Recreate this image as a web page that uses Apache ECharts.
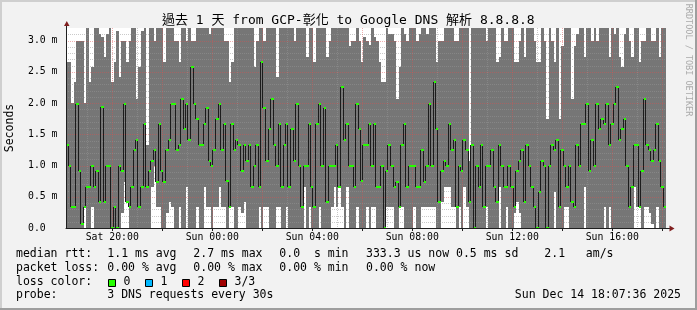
<!DOCTYPE html>
<html><head><meta charset="utf-8">
<script src="https://cdn.jsdelivr.net/npm/echarts@6/dist/echarts.min.js"></script>
<style>html,body{margin:0;padding:0;background:#f2f2f2}#c{width:697px;height:310px}</style>
</head><body><div id="c"></div>
<script>
// ---- time base: hours since Sat 00:00, 6-minute consolidated steps ----
const START_HOUR = 18.15;
const STEP_HOURS = 0.1;
const Y_MAX = 3.2;

// median rtt per step (ms)
const medianMs = [
1.33,1.0,0.33,0.33,1.98,0.92,0.06,0.33,0.66,0.66, 1.0,0.66,0.92,0.41,1.93,0.41,1.0,1.0,0.0,0.33,
0.0,1.0,0.92,1.98,0.41,0.33,0.66,1.25,1.41,0.33, 0.66,1.66,0.66,0.92,1.08,1.25,0.73,1.66,0.92,0.73,
1.25,1.41,1.98,1.98,1.25,1.33,2.06,1.58,1.98,1.41, 2.58,1.98,1.74,1.33,1.33,1.66,1.92,1.08,1.0,1.25,
1.74,1.98,1.25,1.66,0.75,0.33,1.66,1.25,1.41,1.33, 0.92,1.33,1.08,1.33,0.66,1.0,1.33,0.66,2.66,1.92,
1.08,1.58,2.06,1.33,1.0,1.66,0.66,1.33,1.66,0.66, 1.58,1.08,1.98,1.0,0.33,1.0,1.0,1.66,0.66,0.33,
1.66,1.98,1.0,1.92,0.41,1.0,1.0,1.0,1.33,0.66, 2.25,1.41,1.66,1.0,1.0,0.66,1.98,1.58,0.75,1.33,
1.33,1.66,1.0,1.66,0.66,0.66,1.0,0.0,0.92,1.33, 1.0,0.66,0.73,0.33,1.33,1.66,0.66,1.0,1.0,1.0,
0.66,0.66,1.25,0.73,1.0,1.98,1.0,2.33,1.58,0.41, 0.92,1.08,1.0,1.66,1.25,1.41,0.33,1.0,0.92,1.41,
1.25,0.41,1.33,0.0,1.0,0.66,1.33,0.33,1.0,1.0, 1.25,0.66,0.41,1.33,1.0,0.66,0.66,1.0,0.66,0.33,
0.92,1.08,1.25,0.41,1.33,1.0,0.66,0.33,0.0,0.58, 1.08,1.0,0.0,1.0,1.33,1.25,1.41,0.33,1.25,1.0,
0.66,1.0,0.41,0.33,1.33,1.0,1.66,1.66,1.98,0.92, 1.41,1.0,1.98,1.58,1.74,1.66,1.98,1.33,1.66,1.98,
2.25,1.41,1.58,1.74,1.0,0.33,0.66,1.33,1.33,0.33, 0.92,2.06,1.33,1.25,1.08,1.25,1.66,1.08,0.66,0.33
];
// lowest ping per step (ms)
const minMs = [
0,0,0,0,0,0,0,0.33,0,0, 0.33,0,0,0,0,0,0,0,0,0,
0,0,0.24,0.73,0.41,0,0,0,0,0, 0,0,0,0,0.66,1.0,0.33,0.33,0,0,
0.24,0.41,0.33,0,0,0.33,0,0,0.66,0, 0,0,0.33,0,0,0.66,0.33,0.33,0,0.33,
0.33,0.66,0.33,0.33,0,0.33,0.33,0,0,0.33, 0.24,0.41,0,0,0,0,0,0.33,0,0.33,
0.33,0,0,0,0.33,0.33,0,0,0.33,0, 0,0,0,0,0,0.66,0,0.33,0,0,
0,0.33,0,0,0,0,0.33,0.66,0.33,0.66, 0.33,0,0.66,0,0,0,0.33,0,0,0,
0.33,0,0.33,0.33,0,0,0,0,0.33,0.33, 0.33,0,0,0.33,0.33,0,0,0,0,0.33,
0,0,0.33,0.33,0.33,0.33,0.33,0.33,0,0, 0.41,0.66,0.66,0.66,0.33,0.33,0,0.33,0,0.66,
0.33,0,0,0,0,0,0,0,0.33,0, 0,0,0,0.66,0,0,0.33,0,0,0.24,
0.41,0.24,0,0,0,0,0,0,0,0, 0,0,0,0,0,0.58,0,0,0,0.33,
0.33,0,0,0,0,0,0,0.66,0,0, 0,0,0,0,0,0.33,0,0.33,0,0,
0,0,0,0,0,0,0,0.66,0.33,0.33, 0,0.33,0.33,0.24,0.06,0,0.33,0,0,0
];
// highest ping per step (ms); 3.3 = above the top of the graph
const maxMs = [
2.66,2.66,2.0,2.33,3.0,3.0,3.0,2.0,3.3,2.33, 2.58,3.3,3.3,3.1,3.05,2.74,3.1,3.3,2.33,2.66,
3.15,2.41,3.0,3.0,2.66,3.0,3.3,3.3,2.07,2.58, 3.15,3.3,1.33,3.3,3.3,3.0,3.3,3.3,3.3,2.66,
3.3,3.3,3.3,3.0,3.0,2.66,3.3,3.3,3.0,3.3, 3.0,3.0,3.3,3.3,3.3,3.3,3.3,3.1,3.3,3.3,
3.3,3.3,3.3,3.0,3.0,2.33,2.66,3.3,3.3,3.3, 3.3,3.3,3.3,3.3,3.3,2.58,3.0,3.3,3.3,3.0,
3.3,3.3,3.3,3.3,2.41,3.3,3.3,3.3,3.3,3.3, 3.3,3.0,3.3,3.3,3.3,3.3,2.74,3.3,3.3,2.66,
3.3,3.3,3.3,3.3,2.74,3.0,3.3,3.3,3.3,3.3, 3.3,3.3,3.3,2.92,3.0,3.0,3.3,3.0,2.66,3.05,
3.0,2.93,3.3,3.05,3.0,2.66,2.33,2.33,3.3,3.1, 3.1,3.0,2.07,2.58,3.3,3.1,3.0,3.3,3.3,3.3,
3.0,3.1,3.3,3.3,3.1,3.3,3.3,3.3,2.66,3.0, 3.0,3.3,3.3,3.3,3.3,3.0,3.0,3.3,3.3,3.3,
3.3,1.08,3.3,3.3,3.3,3.3,3.3,3.3,3.0,3.3, 3.3,3.3,2.66,2.74,3.3,3.0,3.0,3.3,3.3,2.66,
2.66,3.0,3.3,2.74,3.3,3.3,3.3,3.0,2.66,2.66, 3.3,3.0,1.74,3.3,3.0,2.66,3.3,1.74,2.92,3.3,
3.3,3.3,2.06,2.92,3.1,3.3,3.3,2.74,3.3,3.3, 3.0,3.3,3.0,3.3,3.3,3.3,3.3,2.74,3.3,3.1,
3.3,2.74,2.58,3.1,3.3,3.0,2.74,3.3,3.3,2.66, 3.0,3.0,3.3,3.3,3.0,3.0,3.3,2.74,3.3,3.3
];

const xTickHours = [20, 24, 28, 32, 36, 40];
const xTickLabels = ['Sat 20:00', 'Sun 00:00', 'Sun 04:00', 'Sun 08:00', 'Sun 12:00', 'Sun 16:00'];
const yTickValues = [0, 0.5, 1.0, 1.5, 2.0, 2.5, 3.0];
const yTickLabels = ['0.0', '0.5 m', '1.0 m', '1.5 m', '2.0 m', '2.5 m', '3.0 m'];

const titleText = '過去 1 天 from GCP-彰化 to Google DNS 解析 8.8.8.8';
const rttStats = ['1.1 ms avg', '2.7 ms max', '0.0  s min', '333.3 us now', '0.5 ms sd', '2.1   am/s'];
const lossStats = ['0.00 % avg', '0.00 % max', '0.00 % min', '0.00 % now'];
const lossLabels = ['0', '1', '2', '3/3'];
const lossColors = ['#26ff00', '#00b8ff', '#ff0000', '#a10000'];
const probeText = '3 DNS requests every 30s';
const stampText = 'Sun Dec 14 18:07:36 2025';

// ---- styles ----
const SMOKE = '#767676';
const GRID_C = 'rgba(150,150,150,0.5)';
const MGRID_C = 'rgba(222,79,79,0.45)';
const AXIS_C = '#1f1f1f';
const ARROW_C = '#801f1f';
const MONO = "'DejaVu Sans Mono', 'Noto Sans CJK TC', monospace";

const N = medianMs.length;
const END_HOUR = START_HOUR + N * STEP_HOURS;
const tAt = j => START_HOUR + j * STEP_HOURS;

const smokeData = medianMs.map((_, j) => [tAt(j), tAt(j + 1), minMs[j], maxMs[j]]);
const medData = medianMs.map((m, j) => [tAt(j), tAt(j + 1), m, j + 1 < N ? medianMs[j + 1] : m]);

// grid lines (axis grid, drawn over the smoke like rrdtool does)
const gridData = [];
for (let k = 1; k <= 31; k++) gridData.push([0, k / 10, k % 5 === 0 ? 1 : 0]);
for (let h = 19; h <= 42; h++) gridData.push([1, h, h % 2 === 0 ? 1 : 0]);

function renderSmoke(params, api) {
  const cs = params.coordSys;
  const a = api.coord([api.value(0), api.value(2)]);
  const b = api.coord([api.value(1), Math.min(api.value(3), Y_MAX)]);
  const x0 = Math.round(a[0]), x1 = Math.round(b[0]);
  const y0 = Math.round(a[1]), y1 = Math.max(Math.round(b[1]), cs.y);
  return { type: 'rect', shape: { x: x0, y: y1, width: x1 - x0, height: y0 - y1 }, style: { fill: SMOKE } };
}
function renderGrid(params, api) {
  const cs = params.coordSys;
  const horiz = api.value(0) === 0, v = api.value(1), major = api.value(2) === 1;
  let shape;
  if (horiz) {
    const y = Math.round(api.coord([START_HOUR, v])[1]) + 0.5;
    shape = { x1: cs.x, y1: y, x2: cs.x + cs.width, y2: y };
  } else {
    const x = Math.round(api.coord([v, 0])[0]) + 0.5;
    shape = { x1: x, y1: cs.y, x2: x, y2: cs.y + cs.height };
  }
  return { type: 'line', shape, style: { stroke: major ? MGRID_C : GRID_C, lineWidth: 1, lineDash: [1, 1] } };
}
function renderMedLine(params, api) {
  const a = api.coord([api.value(0), api.value(2)]);
  const b = api.coord([api.value(1), api.value(2)]);
  const c = api.coord([api.value(1), api.value(3)]);
  const x0 = Math.round(a[0]), x1 = Math.round(b[0]) - 0.5;
  const ya = Math.round(a[1]), yc = Math.round(c[1]);
  return { type: 'polyline', shape: { points: [[x0, ya], [x1, ya], [x1, yc]] },
           style: { stroke: '#1c1c1c', lineWidth: 1, fill: null } };
}
function renderMedGreen(params, api) {
  const a = api.coord([api.value(0), api.value(2)]);
  const b = api.coord([api.value(1), api.value(2)]);
  const x0 = Math.round(a[0]), x1 = Math.round(b[0]);
  const y = Math.round(a[1]);
  return { type: 'rect', shape: { x: x0, y: y - 1, width: x1 - x0, height: 2 }, style: { fill: lossColors[0] } };
}

function txt(x, y, s, o) {
  o = o || {};
  return { type: 'text', x: x, y: y, rotation: o.rot || 0, silent: true,
    style: { text: s, font: (o.size || 11.5) + 'px ' + MONO, fill: o.fill || '#000',
      textAlign: o.align || 'left', align: o.align || 'left',
      textVerticalAlign: 'middle', verticalAlign: 'middle' } };
}

const legendCols = [107.3, 193.3, 279.3, 366, 456, 544.3];
const rowY = [254.4, 267.8, 281.6, 295.2];
const graphics = [
  { type: 'rect', shape: { x: 0, y: 0, width: 697, height: 2 }, style: { fill: '#cfcfcf' } },
  { type: 'rect', shape: { x: 0, y: 0, width: 2, height: 310 }, style: { fill: '#cfcfcf' } },
  { type: 'rect', shape: { x: 0, y: 308, width: 697, height: 2 }, style: { fill: '#9e9e9e' } },
  { type: 'rect', shape: { x: 695, y: 0, width: 2, height: 310 }, style: { fill: '#9e9e9e' } },
  txt(348.3, 20.5, titleText, { size: 13, align: 'center' }),
  txt(10.5, 128, 'Seconds', { rot: Math.PI / 2, align: 'center' }),
  txt(688.5, 60, 'RRDTOOL / TOBI OETIKER', { rot: -Math.PI / 2, align: 'center', size: 8.5, fill: '#ababab' }),
  // axis arrows
  { type: 'line', shape: { x1: 66.5, y1: 28, x2: 66.5, y2: 24 }, style: { stroke: AXIS_C, lineWidth: 1 } },
  { type: 'polygon', shape: { points: [[64, 26], [69.5, 26], [66.8, 21]] }, style: { fill: ARROW_C } },
  { type: 'line', shape: { x1: 666, y1: 228.5, x2: 670, y2: 228.5 }, style: { stroke: AXIS_C, lineWidth: 1 } },
  { type: 'polygon', shape: { points: [[669.5, 225.5], [669.5, 231.5], [674.5, 228.5]] }, style: { fill: ARROW_C } },
  txt(16, rowY[0], 'median rtt:'),
  txt(16, rowY[1], 'packet loss:'),
  txt(16, rowY[2], 'loss color:'),
  txt(16, rowY[3], 'probe:'),
  txt(legendCols[0], rowY[3], probeText),
  txt(681, rowY[3], stampText, { align: 'right' })
];
rttStats.forEach((s, i) => graphics.push(txt(legendCols[i], rowY[0], s)));
lossStats.forEach((s, i) => graphics.push(txt(legendCols[i], rowY[1], s)));
const boxX = [108.5, 145.5, 182.5, 219.5];
lossLabels.forEach((s, i) => {
  graphics.push({ type: 'rect', shape: { x: boxX[i], y: 279.5, width: 7, height: 7 },
    style: { fill: lossColors[i], stroke: '#000', lineWidth: 1 } });
  graphics.push(txt(boxX[i] + 15, rowY[2], s));
});

const chart = echarts.init(document.getElementById('c'), null, { renderer: 'canvas', width: 697, height: 310 });
chart.setOption({
  animation: false,
  backgroundColor: '#f2f2f2',
  grid: { left: 66, top: 28, width: 600, height: 200, show: true, backgroundColor: '#ffffff', borderWidth: 0 },
  xAxis: {
    type: 'value', min: START_HOUR, max: END_HOUR, z: 10,
    axisLine: { show: true, onZero: false, lineStyle: { color: AXIS_C, width: 1 } },
    axisTick: { show: true, customValues: [20, 22, 24, 26, 28, 30, 32, 34, 36, 38, 40, 42], length: 3, lineStyle: { color: AXIS_C } },
    axisLabel: { customValues: xTickHours, margin: 5, color: '#000', fontFamily: MONO, fontSize: 9.8,
      formatter: v => { const i = xTickHours.findIndex(h => Math.abs(h - v) < 1e-6); return i >= 0 ? xTickLabels[i] : ''; } },
    splitLine: { show: false }
  },
  yAxis: {
    type: 'value', min: 0, max: Y_MAX, interval: 0.5, z: 10,
    axisLine: { show: true, lineStyle: { color: AXIS_C, width: 1 } },
    axisTick: { show: false },
    axisLabel: { customValues: yTickValues, align: 'left', margin: 38, color: '#000', fontFamily: MONO, fontSize: 9.8,
      formatter: v => { const i = yTickValues.findIndex(t => Math.abs(t - v) < 1e-6); return i >= 0 ? yTickLabels[i] : ''; } },
    splitLine: { show: false }
  },
  series: [
    { type: 'custom', name: 'smoke', z: 1, silent: true, renderItem: renderSmoke, data: smokeData },
    { type: 'custom', name: 'grid', z: 2, silent: true, renderItem: renderGrid, data: gridData },
    { type: 'custom', name: 'median', z: 3, silent: true, renderItem: renderMedLine, data: medData },
    { type: 'custom', name: 'median loss 0', z: 4, silent: true, renderItem: renderMedGreen, data: medData }
  ],
  graphic: graphics
});
</script></body></html>
